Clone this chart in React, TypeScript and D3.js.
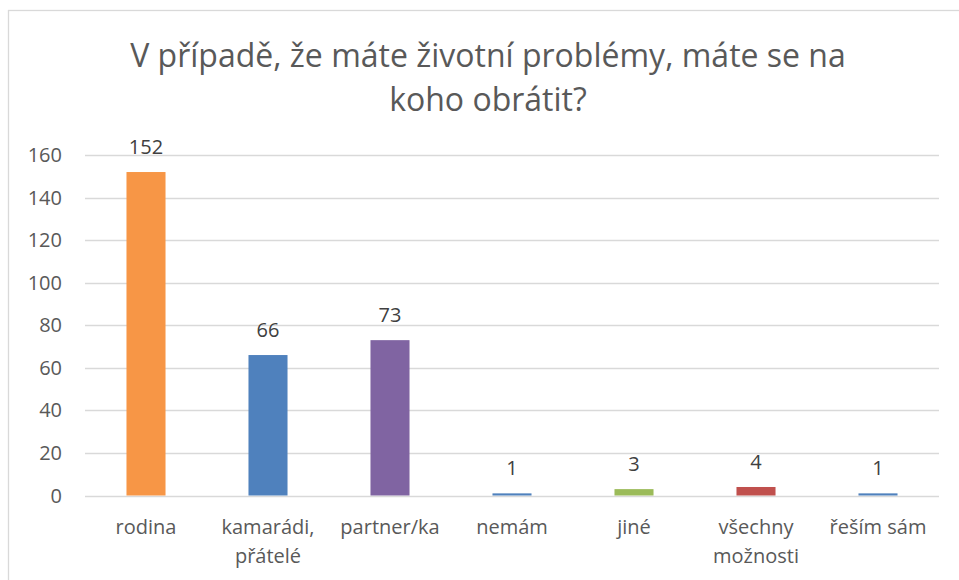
import { useEffect, useRef } from 'react';
import * as d3 from 'd3';

const categories = ['rodina', 'kamarádi,\npřátelé', 'partner/ka', 'nemám', 'jiné', 'všechny\nmožnosti', 'řeším sám'];
const values = [152, 66, 73, 1, 3, 4, 1];
const barColors = ['#F79646', '#4F81BD', '#8064A2', '#4F81BD', '#9BBB59', '#C0504D', '#4F81BD'];
const yTicks = [0, 20, 40, 60, 80, 100, 120, 140, 160];
const titleLines = ['V případě, že máte životní problémy, máte se na', 'koho obrátit?'];

function App() {
  const width = 959;
  const height = 580;
  const left = 85;
  const right = 939;
  const top = 155;
  const bottom = 495.5;
  const font = "'Open Sans', 'Noto Sans', sans-serif";

  const svgRef = useRef<SVGSVGElement>(null);

  useEffect(() => {
    const svg = d3.select(svgRef.current);
    svg.selectAll('*').remove();

    const x = d3.scaleBand().domain(categories).range([left, right]).paddingInner(0.68).paddingOuter(0.34);
    const y = d3.scaleLinear().domain([0, 160]).range([bottom, top]);

    // outer frame
    svg.append('rect')
      .attr('x', 8.5).attr('y', 10.5)
      .attr('width', 960).attr('height', 600)
      .attr('fill', 'white').attr('stroke', '#d9d9d9').attr('stroke-width', 1.3);

    // title
    svg.append('g').selectAll('text')
      .data(titleLines)
      .join('text')
      .attr('x', 488)
      .attr('y', (d, i) => 67 + i * 44)
      .attr('text-anchor', 'middle')
      .attr('font-family', font)
      .attr('font-size', 32)
      .attr('fill', '#595959')
      .text((d) => d);

    // grid
    svg.append('g').selectAll('line')
      .data(yTicks)
      .join('line')
      .attr('x1', left).attr('x2', right)
      .attr('y1', (d) => Math.round(y(d)) + 0.5)
      .attr('y2', (d) => Math.round(y(d)) + 0.5)
      .attr('stroke', '#d9d9d9').attr('stroke-width', 1.3);

    // y labels
    svg.append('g').selectAll('text')
      .data(yTicks)
      .join('text')
      .attr('x', 62)
      .attr('y', (d) => y(d))
      .attr('dy', '0.35em')
      .attr('text-anchor', 'end')
      .attr('font-family', font)
      .attr('font-size', 20)
      .attr('fill', '#595959')
      .text((d) => d);

    // bars
    svg.append('g').selectAll('rect')
      .data(values)
      .join('rect')
      .attr('x', (d, i) => x(categories[i])!)
      .attr('width', x.bandwidth())
      .attr('y', (d) => y(d))
      .attr('height', (d) => y(0) - y(d))
      .attr('fill', (d, i) => barColors[i]);

    // value labels
    svg.append('g').selectAll('text')
      .data(values)
      .join('text')
      .attr('x', (d, i) => x(categories[i])! + x.bandwidth() / 2)
      .attr('y', (d) => y(d) - 25)
      .attr('dy', '0.35em')
      .attr('text-anchor', 'middle')
      .attr('font-family', font)
      .attr('font-size', 20)
      .attr('fill', '#404040')
      .text((d) => d);

    // category labels
    const cat = svg.append('g').selectAll('text')
      .data(categories)
      .join('text')
      .attr('text-anchor', 'middle')
      .attr('font-family', font)
      .attr('font-size', 20)
      .attr('fill', '#595959');
    cat.selectAll('tspan')
      .data((d) => d.split('\n').map((s) => ({ s, c: d })))
      .join('tspan')
      .attr('x', (d) => x(d.c)! + x.bandwidth() / 2)
      .attr('y', (d, i) => 527 + i * 29)
      .attr('dy', '0.35em')
      .text((d) => d.s);
  }, []);

  return (
    <svg ref={svgRef} width={width} height={height} style={{ position: 'absolute', left: 0, top: 0, background: 'white' }} />
  );
}

export default App;
